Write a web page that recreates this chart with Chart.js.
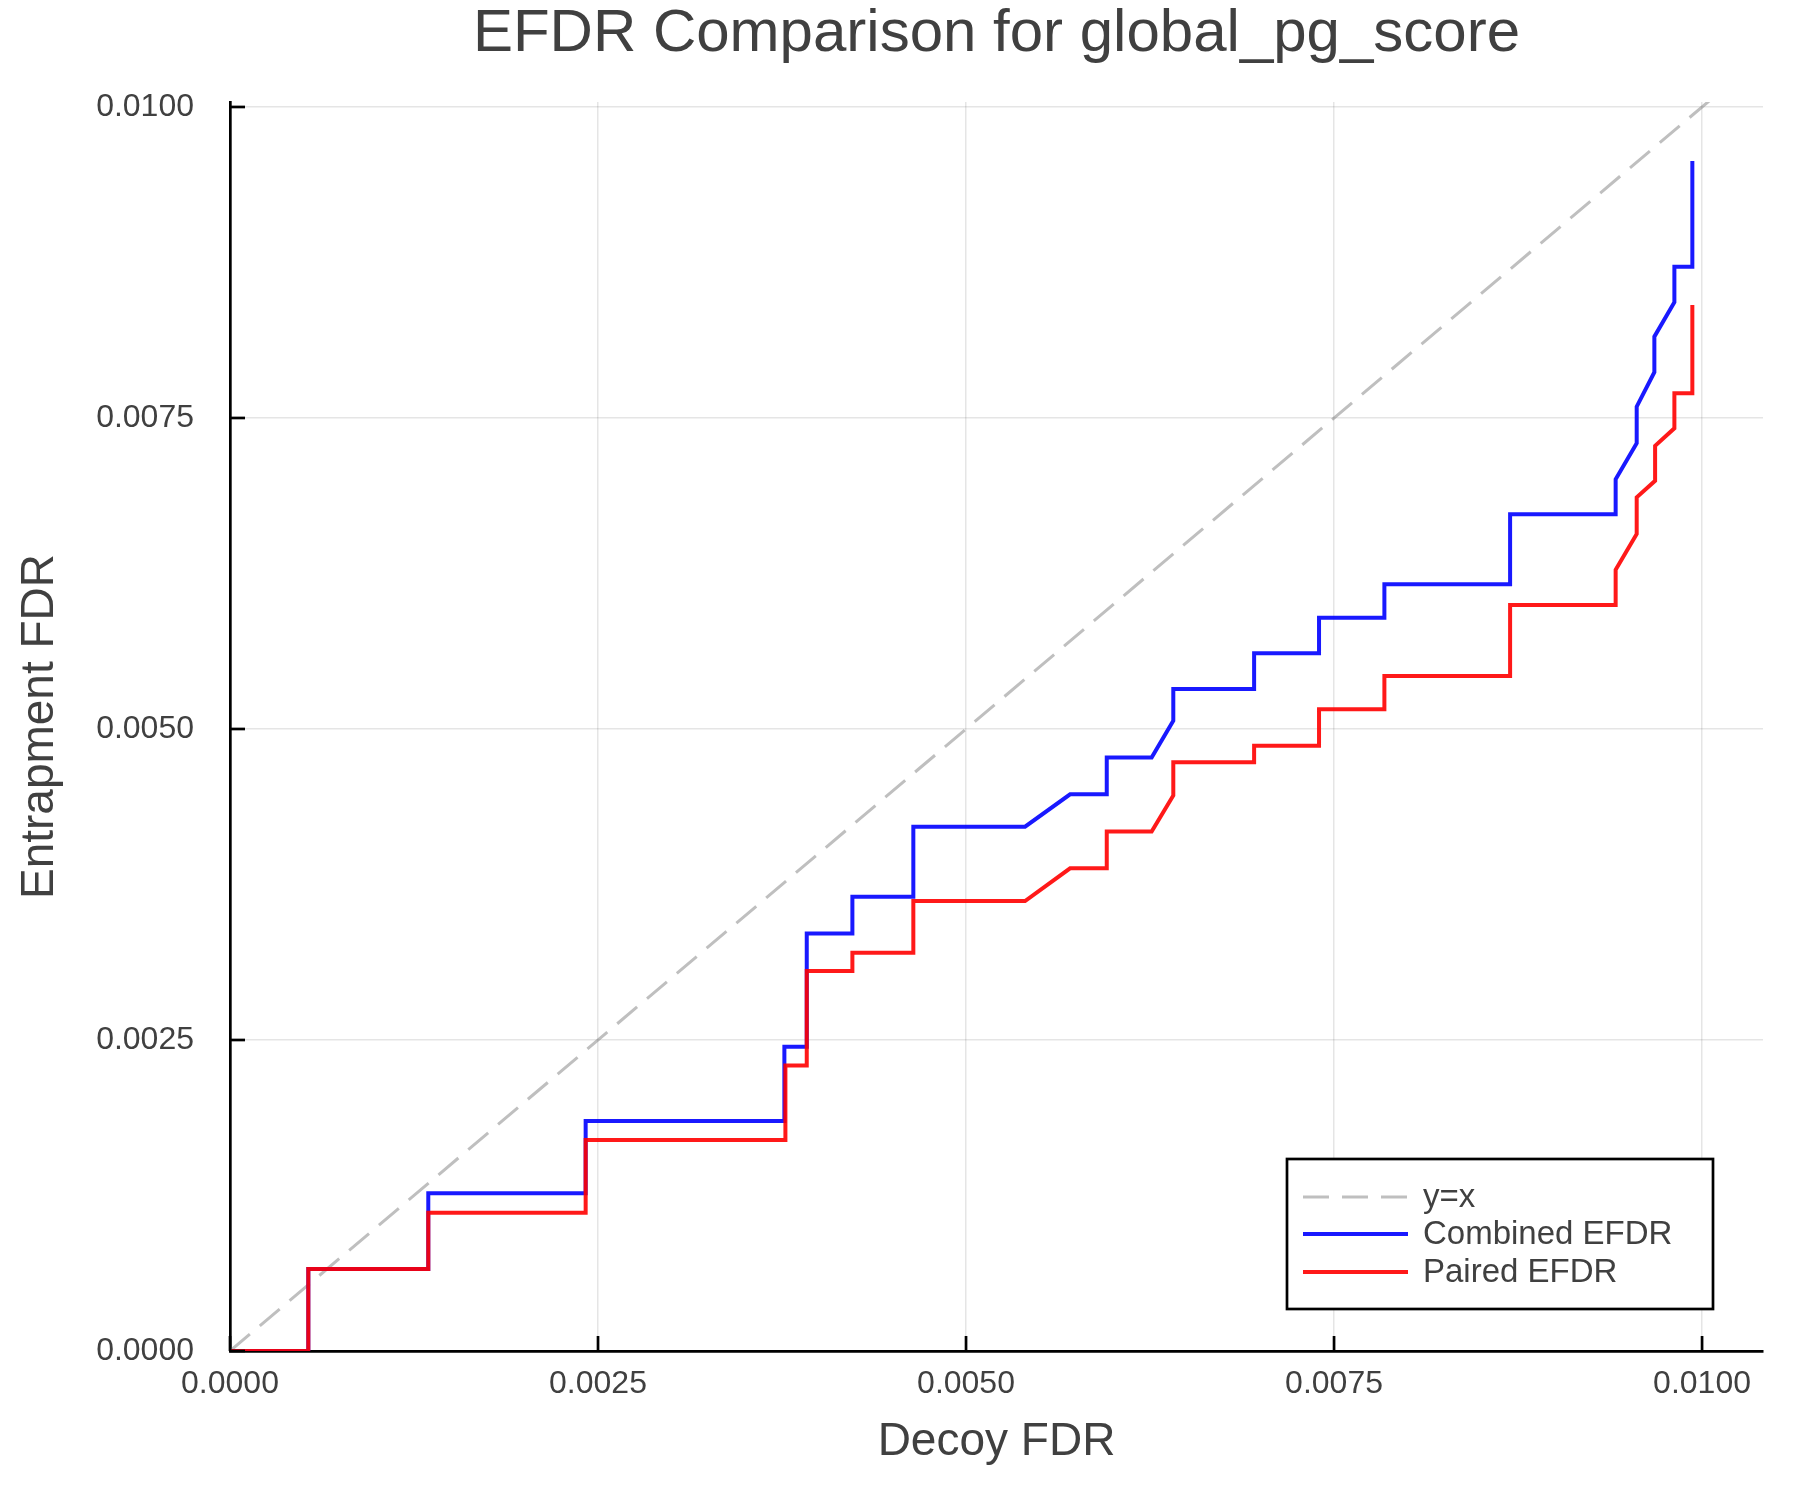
<!DOCTYPE html>
<html>
<head>
<meta charset="utf-8">
<script src="https://cdn.jsdelivr.net/npm/chart.js@4.4.0/dist/chart.umd.min.js"></script>
<style>
  html, body { margin: 0; padding: 0; background: #ffffff; }
  #wrap { width: 1800px; height: 1500px; }
</style>
</head>
<body>
<div id="wrap"><canvas id="efdrChart" width="1800" height="1500"></canvas></div>
<script>
// ------- DATA -------
const titleText = "EFDR Comparison for global_pg_score";
const xTitle = "Decoy FDR";
const yTitle = "Entrapment FDR";
const seriesNames = ["y=x", "Combined EFDR", "Paired EFDR"];

const tickValues = [0, 0.0025, 0.005, 0.0075, 0.01];
const tickLabels = ["0.0000", "0.0025", "0.0050", "0.0075", "0.0100"];

const identityX = [0, 0.0105];
const identityY = [0, 0.0105];

const combinedX = [0, 0.000532, 0.000532, 0.001347, 0.001347, 0.002416, 0.002416, 0.003766, 0.003766, 0.003918,
    0.003918, 0.004228, 0.004228, 0.004642, 0.004642, 0.005401, 0.005707, 0.005956, 0.005956, 0.006261,
    0.006408, 0.006408, 0.006957, 0.006957, 0.007398, 0.007398, 0.007842, 0.007842, 0.008696, 0.008696,
    0.009413, 0.009413, 0.009556, 0.009556, 0.009676, 0.009676, 0.009812, 0.009812, 0.009934, 0.009934];
const combinedY = [0, 0, 0.000659, 0.000659, 0.001268, 0.001268, 0.001849, 0.001849, 0.002446, 0.002446,
    0.003357, 0.003357, 0.003652, 0.003652, 0.004215, 0.004215, 0.004475, 0.004475, 0.004770, 0.004770,
    0.005067, 0.005322, 0.005322, 0.005608, 0.005608, 0.005895, 0.005895, 0.006163, 0.006163, 0.006726,
    0.006726, 0.007007, 0.007297, 0.007591, 0.007868, 0.008154, 0.008430, 0.008716, 0.008716, 0.009566];

const pairedX = [0, 0.000532, 0.000532, 0.001347, 0.001347, 0.002416, 0.002416, 0.003773, 0.003773, 0.003918,
    0.003918, 0.004228, 0.004228, 0.004642, 0.004642, 0.005401, 0.005707, 0.005956, 0.005956, 0.006261,
    0.006408, 0.006408, 0.006957, 0.006957, 0.007398, 0.007398, 0.007842, 0.007842, 0.008696, 0.008696,
    0.009413, 0.009413, 0.009556, 0.009556, 0.009681, 0.009681, 0.009812, 0.009812, 0.009934, 0.009934];
const pairedY = [0, 0, 0.000659, 0.000659, 0.001112, 0.001112, 0.001696, 0.001696, 0.002294, 0.002294,
    0.003055, 0.003055, 0.003202, 0.003202, 0.003617, 0.003617, 0.003880, 0.003880, 0.004175, 0.004175,
    0.004466, 0.004732, 0.004732, 0.004866, 0.004866, 0.005158, 0.005158, 0.005426, 0.005426, 0.005997,
    0.005997, 0.006280, 0.006568, 0.006862, 0.006995, 0.007276, 0.007417, 0.007698, 0.007698, 0.008408];

// ------- HELPERS -------
const FONT = "'Liberation Sans', Arial, Helvetica, sans-serif";
const TEXT_COLOR = "#404040";

function toPoints(xs, ys) {
    return xs.map((x, i) => ({ x: x, y: ys[i] }));
}

// inward tick marks, plot title and the legend box
const decorPlugin = {
    id: "decor",
    afterDraw(chart) {
        const ctx = chart.ctx;
        const area = chart.chartArea;
        const xs = chart.scales.x;
        const ys = chart.scales.y;

        ctx.save();
        ctx.strokeStyle = "#000000";
        ctx.lineWidth = 2.7;
        tickValues.forEach(v => {
            const px = xs.getPixelForValue(v);
            ctx.beginPath();
            ctx.moveTo(px, area.bottom);
            ctx.lineTo(px, area.bottom - 15);
            ctx.stroke();
            const py = ys.getPixelForValue(v);
            ctx.beginPath();
            ctx.moveTo(area.left, py);
            ctx.lineTo(area.left + 15, py);
            ctx.stroke();
        });

        // title
        ctx.fillStyle = TEXT_COLOR;
        ctx.font = "60px " + FONT;
        ctx.textAlign = "center";
        ctx.textBaseline = "middle";
        ctx.fillText(titleText, (area.left + area.right) / 2, 34);

        // legend
        const box = { left: 1287, top: 1159, right: 1713, bottom: 1309 };
        ctx.fillStyle = "#ffffff";
        ctx.fillRect(box.left, box.top, box.right - box.left, box.bottom - box.top);
        ctx.strokeStyle = "#000000";
        ctx.lineWidth = 2.7;
        ctx.strokeRect(box.left, box.top, box.right - box.left, box.bottom - box.top);

        const rowY = [1197, 1234, 1272];
        chart.data.datasets.forEach((ds, i) => {
            ctx.beginPath();
            ctx.strokeStyle = ds.borderColor;
            ctx.lineWidth = ds.borderWidth;
            ctx.setLineDash(ds.borderDash || []);
            ctx.moveTo(1303, rowY[i]);
            ctx.lineTo(1408, rowY[i]);
            ctx.stroke();
            ctx.setLineDash([]);
            ctx.fillStyle = TEXT_COLOR;
            ctx.font = "33px " + FONT;
            ctx.textAlign = "left";
            ctx.textBaseline = "middle";
            ctx.fillText(ds.label, 1423, rowY[i] + 1);
        });
        ctx.restore();
    }
};

// ------- CHART -------
const axisCommon = {
    type: "linear",
    min: 0,
    afterBuildTicks: scale => {
        scale.ticks = tickValues.map(v => ({ value: v }));
    },
    grid: {
        color: "rgba(0,0,0,0.1)",
        lineWidth: 1.5,
        drawTicks: false
    },
    border: { color: "#000000", width: 2.7 }
};

new Chart(document.getElementById("efdrChart").getContext("2d"), {
    type: "line",
    data: {
        datasets: [{
            label: seriesNames[0],
            data: toPoints(identityX, identityY),
            borderColor: "rgba(128,128,128,0.5)",
            borderWidth: 3,
            borderDash: [26, 13],
            pointRadius: 0,
            order: 3
        }, {
            label: seriesNames[1],
            data: toPoints(combinedX, combinedY),
            borderColor: "rgba(0,0,255,0.9)",
            borderWidth: 4,
            pointRadius: 0,
            order: 2
        }, {
            label: seriesNames[2],
            data: toPoints(pairedX, pairedY),
            borderColor: "rgba(255,0,0,0.9)",
            borderWidth: 4,
            pointRadius: 0,
            order: 1
        }]
    },
    options: {
        responsive: false,
        animation: false,
        devicePixelRatio: 1,
        layout: { padding: { left: 0, top: 102, right: 37, bottom: 0 } },
        plugins: {
            legend: { display: false },
            tooltip: { enabled: false },
            title: { display: false }
        },
        scales: {
            x: Object.assign({}, axisCommon, {
                max: 0.010414,
                afterFit: scale => { scale.height = 149; },
                ticks: {
                    padding: 14,
                    color: TEXT_COLOR,
                    font: { family: FONT, size: 32 },
                    maxRotation: 0,
                    callback: (v, i) => tickLabels[i]
                },
                title: {
                    display: true,
                    text: xTitle,
                    color: TEXT_COLOR,
                    font: { family: FONT, size: 46, lineHeight: 1 },
                    padding: { top: 0, bottom: 35 }
                }
            }),
            y: Object.assign({}, axisCommon, {
                max: 0.01004,
                afterFit: scale => { scale.width = 230; },
                ticks: {
                    padding: 36,
                    color: TEXT_COLOR,
                    font: { family: FONT, size: 32 },
                    callback: (v, i) => tickLabels[i]
                },
                title: {
                    display: true,
                    text: yTitle,
                    color: TEXT_COLOR,
                    font: { family: FONT, size: 46, lineHeight: 1 },
                    padding: { top: 17, bottom: 0 }
                }
            })
        }
    },
    plugins: [decorPlugin]
});
</script>
</body>
</html>
